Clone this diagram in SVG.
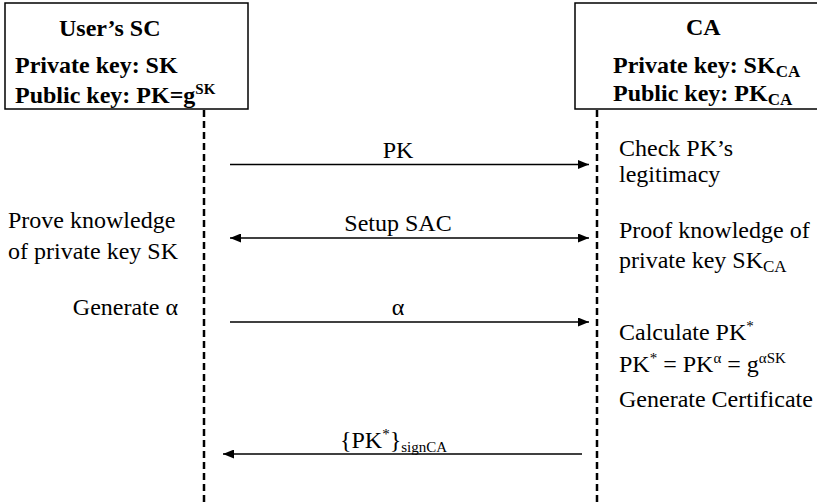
<svg xmlns="http://www.w3.org/2000/svg" width="817" height="502" viewBox="0 0 817 502" font-family="Liberation Serif, Times New Roman, DejaVu Serif, serif">
  <style>
    .box { fill: #ffffff; stroke: #000000; stroke-width: 1.5; }
    .life { stroke: #000000; stroke-width: 2.5; stroke-dasharray: 7 4; fill: none; }
    .msg { stroke: #000000; stroke-width: 1.5; fill: none; }
    text { font-family: 'Liberation Serif', 'Times New Roman', 'DejaVu Serif', serif; font-size: 24px; fill: #000000; }
    .hd { font-weight: bold; }
    .sup { font-size: 15px; }
    .hsub { font-size: 17px; }
  </style>
  <defs>
    <marker id="arrowEnd" viewBox="0 0 11 9" refX="11" refY="4.5" markerWidth="11" markerHeight="9" markerUnits="userSpaceOnUse" orient="auto">
      <path d="M0,0 L11,4.5 L0,9 Z" fill="#000"/>
    </marker>
    <marker id="arrowStart" viewBox="0 0 11 9" refX="0" refY="4.5" markerWidth="11" markerHeight="9" markerUnits="userSpaceOnUse" orient="auto">
      <path d="M11,0 L0,4.5 L11,9 Z" fill="#000"/>
    </marker>
  </defs>

  <rect width="817" height="502" fill="#ffffff"/>

  <!-- lifelines -->
  <g id="lifelines">
    <line class="life" x1="204" y1="110" x2="204" y2="502"/>
    <line class="life" x1="597" y1="110" x2="597" y2="502"/>
  </g>

  <!-- user's smart card -->
  <g id="user-sc">
    <rect class="box" x="5" y="3" width="243" height="106"/>
    <text class="hd" x="59" y="36">User’s SC</text>
    <text class="hd" x="15" y="73">Private key: SK</text>
    <text class="hd" x="15" y="103">Public key: PK=g<tspan class="sup" dy="-9">SK</tspan></text>
  </g>

  <!-- certificate authority -->
  <g id="ca">
    <rect class="box" x="575" y="3" width="260" height="106"/>
    <text class="hd" x="686" y="35">CA</text>
    <text class="hd" x="613" y="73">Private key: SK<tspan class="hsub" dy="4">CA</tspan></text>
    <text class="hd" x="613" y="101">Public key: PK<tspan class="hsub" dy="4">CA</tspan></text>
  </g>

  <!-- messages -->
  <g id="connectors">
    <line class="msg" x1="230" y1="164.5" x2="589" y2="164.5" marker-end="url(#arrowEnd)"/>
    <line class="msg" x1="230" y1="238" x2="589" y2="238" marker-start="url(#arrowStart)" marker-end="url(#arrowEnd)"/>
    <line class="msg" x1="230" y1="322" x2="589" y2="322" marker-end="url(#arrowEnd)"/>
    <line class="msg" x1="582" y1="454" x2="223" y2="454" marker-end="url(#arrowEnd)"/>
  </g>

  <!-- message labels -->
  <g id="labels">
    <text x="398" y="158" text-anchor="middle">PK</text>
    <text x="398" y="231" text-anchor="middle">Setup SAC</text>
    <text x="398" y="315" text-anchor="middle">α</text>
    <text x="340" y="448">{PK<tspan class="sup" dy="-9">*</tspan><tspan dy="9">}</tspan><tspan class="sup" dy="4">signCA</tspan></text>
  </g>

  <!-- user's side actions -->
  <g id="user-actions">
    <text x="8" y="228">Prove knowledge</text>
    <text x="8" y="259">of private key SK</text>
    <text x="178" y="315" text-anchor="end">Generate α</text>
  </g>

  <!-- CA side actions -->
  <g id="ca-actions">
    <text x="619" y="156">Check PK’s</text>
    <text x="619" y="182">legitimacy</text>
    <text x="619" y="238">Proof knowledge of</text>
    <text x="619" y="268">private key SK<tspan class="hsub" dy="4">CA</tspan></text>
    <text x="619" y="340">Calculate PK<tspan class="sup" dy="-9">*</tspan></text>
    <text x="619" y="372">PK<tspan class="sup" dy="-9">*</tspan><tspan dy="9"> = PK</tspan><tspan class="sup" dy="-9">α</tspan><tspan dy="9"> = g</tspan><tspan class="sup" dy="-9">αSK</tspan></text>
    <text x="619" y="407">Generate Certificate</text>
  </g>
</svg>
